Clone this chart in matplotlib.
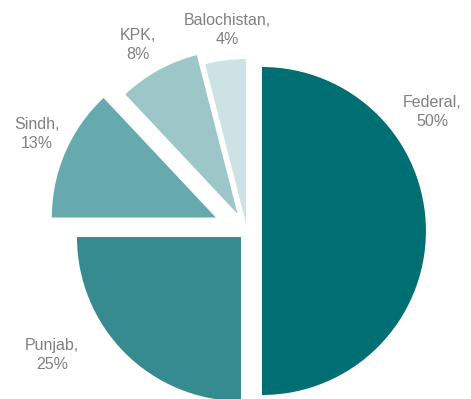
import matplotlib.pyplot as plt

regions = ["Federal", "Punjab", "Sindh", "KPK", "Balochistan"]
shares = [50, 25, 13, 8, 4]
colors = ["#006f74", "#368b91", "#66aaae", "#9dc6c9", "#cce2e4"]
explode = [0.091, 0.052, 0.207, 0.119, 0.049]
# label anchor points, in units of pie radius
label_xy = [(1.128, 0.726), (-1.189, -0.756), (-1.280, 0.591),
            (-0.665, 1.134), (-0.122, 1.226)]

fig = plt.figure(figsize=(4.71, 3.99), dpi=100)
ax = fig.add_axes([0, 0, 1, 1])

ax.pie(shares, colors=colors, startangle=90, counterclock=False,
       explode=explode, radius=1.0, wedgeprops=dict(linewidth=0))

for name, val, (x, y) in zip(regions, shares, label_xy):
    ax.text(x, y, f"{name},\n{val}%", ha="center", va="center",
            fontsize=11.5, color="#808080", family="Liberation Sans",
            linespacing=1.38)

px = 164.0  # pixels per radius
cx, cy = 247.0, 231.0
ax.set_xlim(-cx / px, (471 - cx) / px)
ax.set_ylim(-(399 - cy) / px, cy / px)
ax.set_aspect("auto")
ax.axis("off")

fig.savefig("out.png", dpi=100)
